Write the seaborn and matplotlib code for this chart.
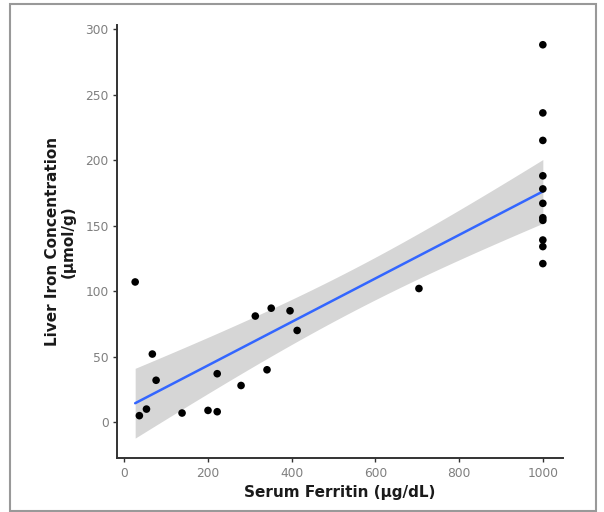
import numpy as np
import pandas as pd
import seaborn as sns
import matplotlib
matplotlib.use("Agg")
import matplotlib.pyplot as plt
from matplotlib.patches import Rectangle

ferritin = [26, 36, 53, 67, 76, 138, 200, 222, 222, 279, 313, 341, 351, 396, 413, 704,
            1000, 1000, 1000, 1000, 1000, 1000, 1000, 1000, 1000, 1000, 1000]
liver_iron = [107, 5, 10, 52, 32, 7, 9, 8, 37, 28, 81, 40, 87, 85, 70, 102,
              288, 236, 215, 188, 178, 167, 156, 154, 139, 134, 121]
x_ticks = [0, 200, 400, 600, 800, 1000]
y_ticks = [0, 50, 100, 150, 200, 250, 300]

df = pd.DataFrame({"ferritin": ferritin, "liver": liver_iron})

sns.set_theme(style="white")
plt.rcParams['font.family'] = ['DejaVu Sans']

fig = plt.figure(figsize=(6.04, 5.12), dpi=100)
ax = fig.add_axes([0.194, 0.105, 0.738, 0.846])

# analytic 95% confidence band (like ggplot geom_smooth(method="lm"))
x = np.asarray(ferritin, float)
y = np.asarray(liver_iron, float)
n = len(x)
slope, intercept = np.polyfit(x, y, 1)
resid = y - (slope * x + intercept)
s = np.sqrt(np.sum(resid ** 2) / (n - 2))
xg = np.linspace(x.min(), x.max(), 200)
se = s * np.sqrt(1 / n + (xg - x.mean()) ** 2 / np.sum((x - x.mean()) ** 2))
tval = 2.0595  # t(0.975, 25)
fit = slope * xg + intercept
ax.fill_between(xg, fit - tval * se, fit + tval * se, color="#999999", alpha=0.4,
                linewidth=0, zorder=1)

sns.regplot(data=df, x="ferritin", y="liver", ax=ax, ci=None,
            scatter_kws=dict(color="black", s=30, edgecolor="none", alpha=1, zorder=3),
            line_kws=dict(color="#3366FF", lw=1.8, zorder=2))

ax.set_xlim(-17, 1048)
ax.set_ylim(-27.5, 303)
ax.set_xticks(x_ticks)
ax.set_yticks(y_ticks)
ax.tick_params(axis="both", which="both", direction="out", length=3, width=1,
               color="#333333", labelcolor="#7F7F7F", labelsize=8.8, left=True, bottom=True, pad=3)
for sp in ["top", "right"]:
    ax.spines[sp].set_visible(False)
for sp in ["left", "bottom"]:
    ax.spines[sp].set_color("#333333")
    ax.spines[sp].set_linewidth(1.4)

ax.set_xlabel("Serum Ferritin (µg/dL)", fontsize=11, fontweight="bold", color="#1a1a1a", labelpad=4)
ax.set_ylabel("Liver Iron Concentration\n(µmol/g)", fontsize=11, fontweight="bold", color="#1a1a1a",
              labelpad=7, linespacing=1.1)

fig.patches.append(Rectangle((10/604, 1/512), 586/604, 507/512, transform=fig.transFigure,
                             fill=False, edgecolor="#999999", lw=1.5))

fig.savefig("out.png", dpi=100)
